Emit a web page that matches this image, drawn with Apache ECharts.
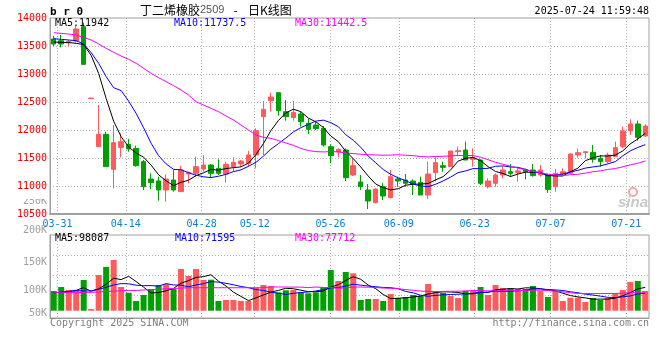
<!DOCTYPE html>
<html><head><meta charset="utf-8">
<script src="https://cdn.jsdelivr.net/npm/echarts@6/dist/echarts.min.js"></script>
<style>html,body{margin:0;padding:0;background:#fff}#c{width:660px;height:360px}</style>
</head><body><div id="c"></div>
<script>
// ---------- data ----------
const dates = [
'2025-03-28','2025-03-31','2025-04-01','2025-04-02','2025-04-03',
'2025-04-07','2025-04-08','2025-04-09','2025-04-10','2025-04-11',
'2025-04-14','2025-04-15','2025-04-16','2025-04-17','2025-04-18',
'2025-04-21','2025-04-22','2025-04-23','2025-04-24','2025-04-25',
'2025-04-28','2025-04-29','2025-04-30',
'2025-05-06','2025-05-07','2025-05-08','2025-05-09',
'2025-05-12','2025-05-13','2025-05-14','2025-05-15','2025-05-16',
'2025-05-19','2025-05-20','2025-05-21','2025-05-22','2025-05-23',
'2025-05-26','2025-05-27','2025-05-28','2025-05-29','2025-05-30',
'2025-06-03','2025-06-04','2025-06-05','2025-06-06',
'2025-06-09','2025-06-10','2025-06-11','2025-06-12','2025-06-13',
'2025-06-16','2025-06-17','2025-06-18','2025-06-19','2025-06-20',
'2025-06-23','2025-06-24','2025-06-25','2025-06-26','2025-06-27',
'2025-06-30','2025-07-01','2025-07-02','2025-07-03','2025-07-04',
'2025-07-07','2025-07-08','2025-07-09','2025-07-10','2025-07-11',
'2025-07-14','2025-07-15','2025-07-16','2025-07-17','2025-07-18',
'2025-07-21','2025-07-22','2025-07-23','2025-07-24'];
const tickLabels = ['03-31','04-14','04-28','05-12','05-26','06-09','06-23','07-07','07-21'];

const opens = [13625,13595,13560,13590,13845,12560,11702,11923,11298,11690,
11744,11672,11434,11125,11090,10929,11107,10899,11214,11226,
11303,11375,11315,11214,11345,11393,11405,11554,12238,12524,
12667,12327,12220,12286,12119,12089,12030,11702,11607,11643,
11197,11072,10929,10702,10988,10792,11125,11107,11089,11065,
10839,11238,11363,11345,11613,11643,11476,11464,10988,11048,
11197,11256,11238,11286,11286,11197,11197,10988,11214,11226,
11554,11595,11601,11494,11434,11524,11702,11988,12107,11893];
const closes = [13535,13535,13580,13803,13172,12570,11923,11345,11774,11792,
11661,11363,10988,11060,10929,11125,10929,11286,11244,11345,
11375,11226,11226,11387,11423,11446,11554,11988,12369,12589,
12345,12238,12315,12149,12012,12024,11732,11542,11655,11149,
11363,10988,10732,10946,10821,11167,11089,11048,11030,10839,
11214,11417,11333,11625,11631,11464,11500,11048,11089,11197,
11286,11226,11268,11256,11185,11286,10940,11226,11256,11571,
11595,11613,11476,11434,11554,11685,11982,12107,11869,12071];
const lows = [13500,13476,13500,13560,13160,12560,11702,11345,10958,11512,
11613,11345,10929,10940,10738,10720,10899,10899,11048,11167,
11256,11155,11196,11060,11256,11345,11345,11315,11554,12327,
12256,12167,12167,12060,11929,12000,11702,11405,11512,11089,
11179,10929,10589,10690,10750,10780,10988,10988,10839,10839,
10768,11077,11256,11345,11536,11464,11345,11018,10958,10988,
11137,11167,11077,11119,11167,11167,10881,10899,11185,11214,
11506,11494,11417,11345,11405,11524,11673,11911,11810,11881];
const highs = [13680,13696,13607,13857,13916,12570,12446,11970,12089,11940,
11839,11720,11464,11226,11167,11208,11286,11363,11256,11524,
11554,11393,11476,11434,11512,11464,11625,12030,12518,12667,
12667,12536,12518,12327,12196,12149,12071,11744,11672,11672,
11494,11197,11036,10958,11048,11286,11167,11214,11119,11167,
11435,11512,11434,11625,11703,11792,11673,11476,11137,11226,
11345,11393,11315,11315,11393,11375,11214,11304,11315,11583,
11667,11625,11732,11554,11595,11792,12060,12191,12167,12101];
const volumes = [82700,99500,86900,86900,128900,7100,149900,183500,212900,99500,
75600,40700,65900,91100,107900,112100,91100,175100,145700,175100,
128900,130200,40700,44900,44900,40700,40700,96600,107900,103700,
77300,85700,86900,77300,73100,77300,98300,170900,124700,162500,
157100,44900,49100,49100,40700,70100,53300,57500,65900,61700,
112100,82700,74300,61700,53300,82700,82700,99500,65900,107900,
95300,95300,91100,91100,103700,82700,57500,82700,40700,54600,
54600,36500,53300,44900,53300,74300,86900,120500,124700,82700];

// moving-average values before enough bars are on screen
const priceMa5Head = [13571,13565,13560,13548];
const priceMa10Head = [13631,13619,13607,13595,13536,13381,13190,12952,12756];
const priceMa30Head = [13738,13726,13714,13696,13655,13607,13536,13458,13387,13321,
13262,13191,13101,13012,12935,12863,12792,12714,12625,12506,
12446,12387,12327,12250,12179,12089,12000,11911,11869];
const volMa5Head = [75600,77300,79800,85700];
const volMa10Head = [75600,77300,81500,84300,83000,83000,90000,98400,108200];
const volMa30Head = [75600,75600,75600,75600,77000,77000,79000,81000,82000,83700,
85000,85000,87000,88500,90000,92000,93500,95000,96500,96500,
96500,96500,96500,96500,96500,96500,96500,96500,96500];

const priceMaLabels = ['MA5:11942','MA10:11737.5','MA30:11442.5'];
const volMaLabels = ['MA5:98087','MA10:71595','MA30:77712'];
const titleMain = '丁二烯橡胶', titleCode = '2509', titleTail = '日K线图';
const stamp = '2025-07-24 11:59:48';
const copyrightText = 'Copyright 2025 SINA.COM';
const urlText = 'http://finance.sina.com.cn';

// ---------- helpers ----------
function movingAverage(vals, n, head) {
  return vals.map((v, i) => {
    if (i < head.length) return head[i];
    let s = 0;
    for (let j = i - n + 1; j <= i; j++) s += vals[j];
    return Math.round(s / n * 10) / 10;
  });
}
const ma5 = movingAverage(closes, 5, priceMa5Head);
const ma10 = movingAverage(closes, 10, priceMa10Head);
const ma30 = movingAverage(closes, 30, priceMa30Head);
const vma5 = movingAverage(volumes, 5, volMa5Head);
const vma10 = movingAverage(volumes, 10, volMa10Head);
const vma30 = movingAverage(volumes, 30, volMa30Head);

const UP = '#ff5b5b', DOWN = '#00a000';
const GRAY = '#a0a0a0';
const MONO = 'DejaVu Sans Mono';
const dotted = {color:'#b0b0b0', type:[1,2], width:1};
const isTick = (i) => tickLabels.indexOf(dates[i].slice(5)) >= 0;

const chart = echarts.init(document.getElementById('c'), null, {renderer:'canvas'});
const txt = (text, x, y, fill, extra) => Object.assign({
  type:'text', z:10, silent:true,
  style:Object.assign({text, x, y, fill, font:'10px "' + MONO + '"', align:'left', verticalAlign:'middle'}, extra || {})
});

chart.setOption({
  animation:false,
  backgroundColor:'#ffffff',
  grid:[
    {left:50, top:18, width:599, height:196, show:true, borderColor:GRAY, borderWidth:1},
    {left:50, top:235, width:599, height:75.7, show:false},
    {left:50, top:235, width:599, height:83, show:true, borderColor:GRAY, borderWidth:1}
  ],
  xAxis:[
    {gridIndex:0, type:'category', data:dates, boundaryGap:true, show:false},
    {gridIndex:0, type:'category', data:dates, boundaryGap:false, position:'bottom',
      axisLine:{show:true, lineStyle:{color:GRAY, width:2}}, axisTick:{show:false},
      axisLabel:{interval:isTick, formatter:(v)=>v.slice(5), color:'#0c82d0', fontFamily:MONO, fontSize:10, margin:5},
      splitLine:{show:true, interval:isTick, lineStyle:dotted}},
    {gridIndex:1, type:'category', data:dates, boundaryGap:true, show:false},
    {gridIndex:2, type:'category', data:dates, boundaryGap:false, position:'bottom',
      axisLine:{show:true, lineStyle:{color:GRAY, width:1}}, axisTick:{show:false},
      axisLabel:{show:false},
      splitLine:{show:true, interval:isTick, lineStyle:dotted}}
  ],
  yAxis:[
    {gridIndex:0, type:'value', min:10500, max:14000, interval:500,
      axisLine:{show:true, lineStyle:{color:GRAY}}, axisTick:{show:false},
      axisLabel:{color:'#ee0000', fontFamily:MONO, fontSize:10, margin:3, formatter:(v)=>String(v)},
      splitLine:{show:true, lineStyle:dotted, showMinLine:false, showMaxLine:false}},
    {gridIndex:1, type:'value', min:0, max:318000, show:false},
    {gridIndex:1, type:'value', min:0, max:75.7, interval:20, inverse:true,
      axisLine:{show:false}, axisTick:{show:false}, axisLabel:{show:false},
      splitLine:{show:true, lineStyle:dotted, showMinLine:false, showMaxLine:false}},
    {gridIndex:2, type:'value', min:50000, max:200000, interval:50000,
      axisLine:{show:true, lineStyle:{color:GRAY}}, axisTick:{show:false},
      axisLabel:{color:'#a0a0a0', fontFamily:MONO, fontSize:10, margin:3,
        formatter:(v)=>(v/1000)+'K', verticalAlignMaxLabel:'bottom', verticalAlignMinLabel:'bottom'},
      splitLine:{show:false}}
  ],
  series:[
    {type:'candlestick', xAxisIndex:0, yAxisIndex:0, barWidth:5,
      data:dates.map((d,i)=>[opens[i], closes[i], lows[i], highs[i]]),
      itemStyle:{color:UP, color0:DOWN, borderColor:UP, borderColor0:DOWN, borderWidth:1}},
    {type:'line', xAxisIndex:0, yAxisIndex:0, data:ma5, symbol:'none', z:3, lineStyle:{color:'#000000', width:1}},
    {type:'line', xAxisIndex:0, yAxisIndex:0, data:ma10, symbol:'none', z:3, lineStyle:{color:'#0000ff', width:1}},
    {type:'line', xAxisIndex:0, yAxisIndex:0, data:ma30, symbol:'none', z:3, lineStyle:{color:'#ff00ff', width:1}},
    {type:'bar', xAxisIndex:2, yAxisIndex:1, data:volumes, barWidth:6,
      itemStyle:{color:(p)=>closes[p.dataIndex] >= opens[p.dataIndex] ? UP : DOWN}},
    {type:'line', xAxisIndex:2, yAxisIndex:1, data:vma5, symbol:'none', z:3, lineStyle:{color:'#000000', width:1}},
    {type:'line', xAxisIndex:2, yAxisIndex:1, data:vma10, symbol:'none', z:3, lineStyle:{color:'#0000ff', width:1}},
    {type:'line', xAxisIndex:2, yAxisIndex:1, data:vma30, symbol:'none', z:3, lineStyle:{color:'#ff00ff', width:1}}
  ],
  graphic:[
    txt('b r 0', 50, 12, '#000', {font:'bold 11px "' + MONO + '"'}),
    txt(titleMain, 140, 10, '#000', {font:'12px "Noto Sans CJK SC"'}),
    txt(titleCode, 200, 10, '#555', {font:'11px "Liberation Sans"'}),
    txt('-', 235.5, 10, '#000', {font:'12px "Noto Sans CJK SC"', align:'center'}),
    txt(titleTail, 248, 10, '#000', {font:'12px "Noto Sans CJK SC"'}),
    txt(stamp, 649, 11.5, '#000', {align:'right'}),
    txt(priceMaLabels[0], 55, 23.5, '#000'),
    txt(priceMaLabels[1], 174, 23.5, '#0000ff'),
    txt(priceMaLabels[2], 295, 23.5, '#ff00ff'),
    txt(volMaLabels[0], 55, 238.8, '#000'),
    txt(volMaLabels[1], 175, 238.8, '#0000ff'),
    txt(volMaLabels[2], 295, 238.8, '#ff00ff'),
    txt(copyrightText, 50, 323.5, '#808080'),
    txt(urlText, 649, 323.5, '#808080', {align:'right'}),
    txt('250K', 47, 201, '#a0a0a0', {align:'right'}),
    {type:'rect', z:11, silent:true, shape:{x:10, y:189.5, width:38, height:9.5}, style:{fill:'#ffffff'}},
    {type:'circle', z:9, silent:true, shape:{cx:633, cy:192, r:4}, style:{fill:'none', stroke:'#f0a8a8', lineWidth:2}},
    txt('sina', 618, 203, '#c8c8c8', {font:'italic bold 15px "Liberation Sans"'})
  ]
});
</script></body></html>
